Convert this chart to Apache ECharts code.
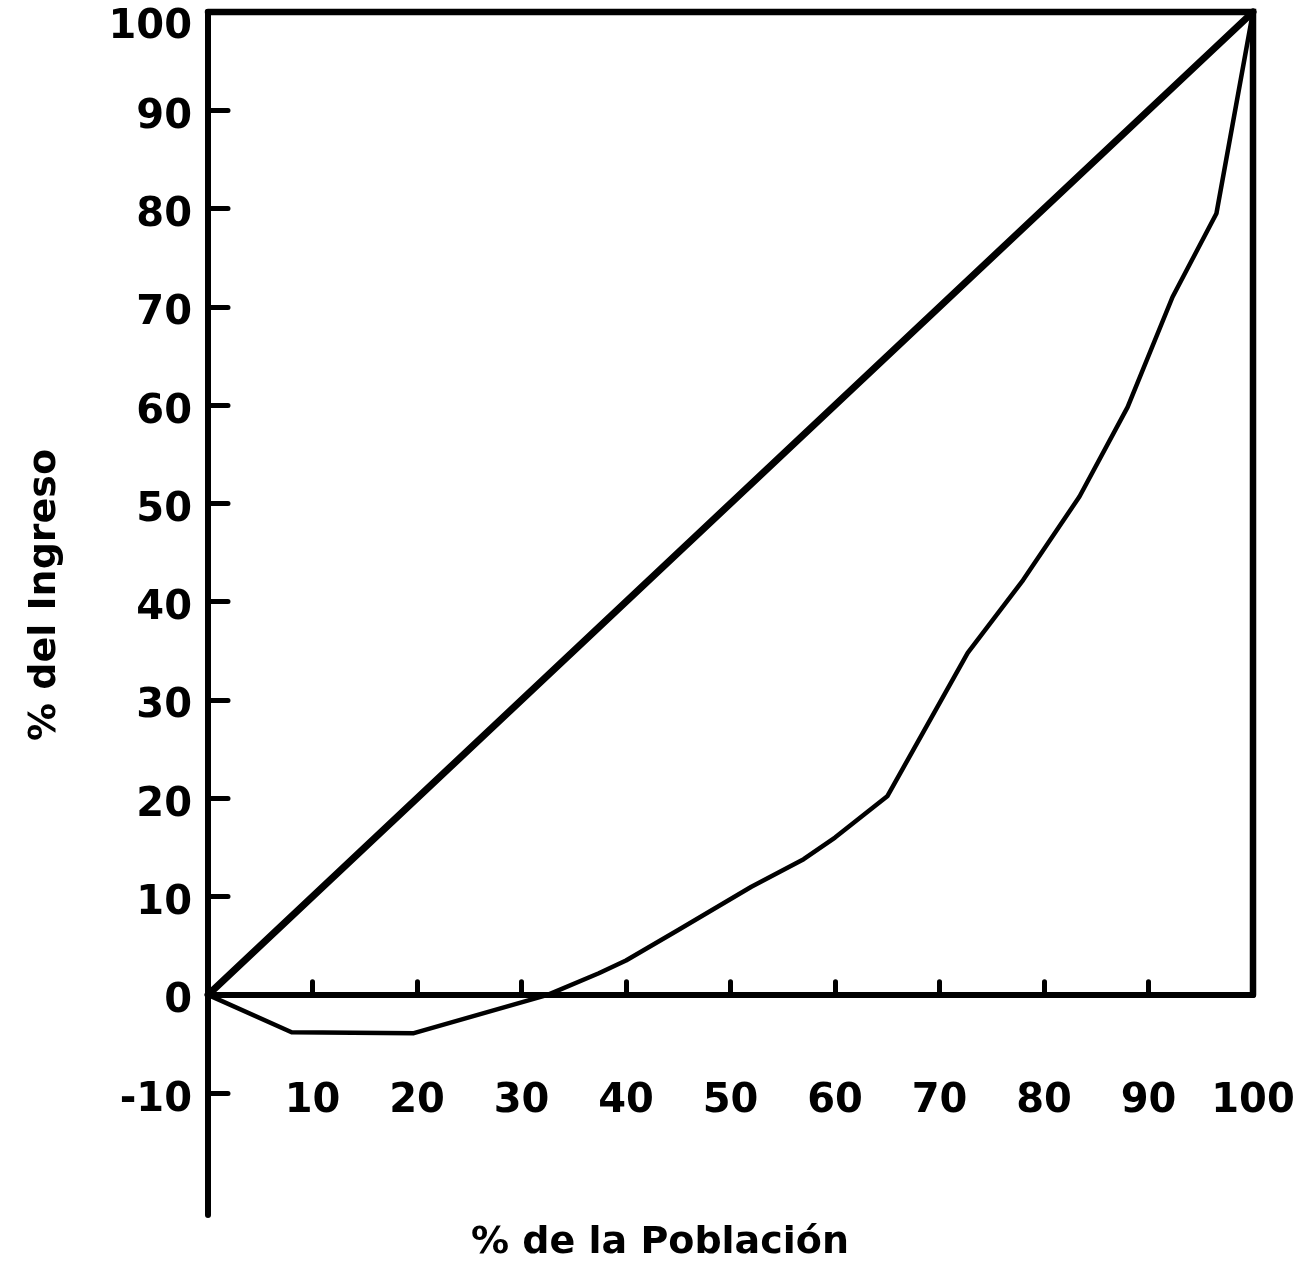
<!DOCTYPE html>
<html>
<head>
<meta charset="utf-8">
<script src="https://cdn.jsdelivr.net/npm/echarts@6/dist/echarts.min.js"></script>
<style>
html,body{margin:0;padding:0;background:#fff;}
#c{width:1306px;height:1266px;}
</style>
</head>
<body>
<div id="c"></div>
<script>
// Lorenz curve: % de la Población (x) vs % del Ingreso (y)
const populationPct = [0, 8, 19.7, 32.5, 37.4, 40, 45, 52, 57, 60, 65, 72.7, 78, 83.4, 88, 92.3, 96.5, 100];
const incomePct     = [0, -3.8, -3.9, 0, 2.2, 3.5, 6.6, 11, 13.8, 16, 20.2, 34.8, 42.2, 50.7, 59.8, 71, 79.5, 100];

// Line of perfect equality
const equalityX = [0, 100];
const equalityY = [0, 100];

// Frame (top and right edges of the square)
const frameX = [0, 100, 100];
const frameY = [100, 100, 0];

// Axis ticks / labels
const xTickValues  = [10, 20, 30, 40, 50, 60, 70, 80, 90];
const xLabelValues = [10, 20, 30, 40, 50, 60, 70, 80, 90, 100];
const yTickValues  = [-10, 10, 20, 30, 40, 50, 60, 70, 80, 90];
const yLabelValues = [-10, 0, 10, 20, 30, 40, 50, 60, 70, 80, 90, 100];
const yAxisMin = -22.4;
const yAxisMax = 100;

const xTitle = '% de la Población';
const yTitle = '% del Ingreso';

const pairs = (xs, ys) => xs.map((x, i) => [x, ys[i]]);

const FONT = '"DejaVu Sans", sans-serif';
const INK = '#000';
const labelFont = {color: INK, fontSize: 40, fontWeight: 'bold', fontFamily: FONT};

const chart = echarts.init(document.getElementById('c'), null, {renderer: 'canvas'});
chart.setOption({
  animation: false,
  backgroundColor: '#fff',
  grid: {left: 208, right: 53, top: 12, bottom: 51, containLabel: false},
  xAxis: [
    {
      type: 'value', min: 0, max: 100,
      axisLine: {show: true, onZero: true, lineStyle: {color: INK, width: 6, cap: 'round'}},
      axisTick: {show: true, inside: true, length: 13, customValues: xTickValues,
                 lineStyle: {color: INK, width: 5, cap: 'round'}},
      axisLabel: {show: false},
      splitLine: {show: false}
    },
    {
      type: 'value', min: 0, max: 100, position: 'bottom',
      axisLine: {show: false, onZero: false},
      axisTick: {show: false},
      axisLabel: Object.assign({customValues: xLabelValues, inside: true, margin: 93}, labelFont),
      splitLine: {show: false}
    }
  ],
  yAxis: {
    type: 'value', min: yAxisMin, max: yAxisMax,
    axisLine: {show: true, lineStyle: {color: INK, width: 6, cap: 'round'}},
    axisTick: {show: true, inside: true, length: 20, customValues: yTickValues,
               lineStyle: {color: INK, width: 5, cap: 'round'}},
    axisLabel: Object.assign({
      customValues: yLabelValues, margin: 16,
      formatter: v => (v === yAxisMax ? '{top|' + v + '}' : '{std|' + v + '}'),
      rich: {
        top: Object.assign({padding: [32, 0, 0, 0]}, labelFont),
        std: Object.assign({padding: [14, 0, 0, 0]}, labelFont)
      }
    }, labelFont),
    splitLine: {show: false}
  },
  series: [
    {
      name: 'marco', type: 'line', data: pairs(frameX, frameY), symbol: 'none', clip: false,
      lineStyle: {color: INK, width: 6.5, cap: 'round', join: 'miter'}, silent: true
    },
    {
      name: 'igualdad', type: 'line', data: pairs(equalityX, equalityY), symbol: 'none', clip: false,
      lineStyle: {color: INK, width: 7, cap: 'round'}, silent: true
    },
    {
      name: 'Lorenz', type: 'line', data: pairs(populationPct, incomePct), symbol: 'none', clip: false,
      lineStyle: {color: INK, width: 4.5, cap: 'round', join: 'round'}, silent: true
    }
  ],
  graphic: [
    {
      type: 'text', x: 660, y: 1243,
      style: {text: xTitle, fill: INK, font: 'bold 38px ' + FONT, align: 'center', verticalAlign: 'middle'}
    },
    {
      type: 'text', x: 45, y: 595, rotation: Math.PI / 2,
      style: {text: yTitle, fill: INK, font: 'bold 38px ' + FONT, align: 'center', verticalAlign: 'middle'}
    }
  ]
});
</script>
</body>
</html>
